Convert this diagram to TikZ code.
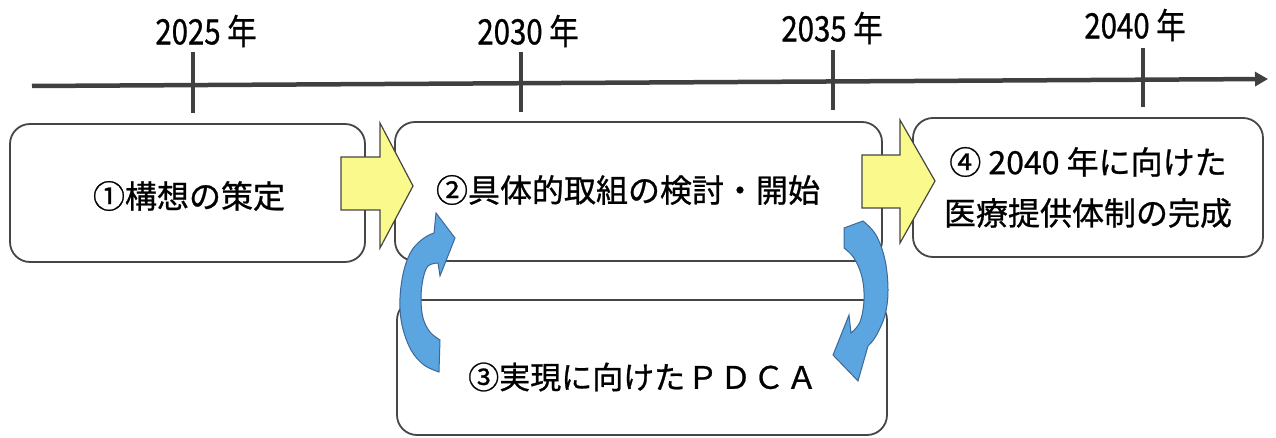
\documentclass[tikz,border=0pt]{standalone}
\usepackage{fontspec}
\setmainfont{Noto Sans CJK JP}
\newfontfamily\boxfont[FakeBold=0.8]{Noto Sans CJK JP}
\newfontfamily\yearfont[FakeStretch=0.84,FakeBold=0.8]{Noto Sans CJK JP}
\usetikzlibrary{arrows.meta}
\definecolor{boxline}{RGB}{70,70,70}
\definecolor{axisgray}{RGB}{64,64,64}
\definecolor{yfill}{RGB}{250,250,140}
\definecolor{bfill}{RGB}{91,165,225}
\definecolor{bline}{RGB}{60,105,150}
\begin{document}
\begin{tikzpicture}[x=1pt,y=-1pt,
  box/.style={draw=boxline, line width=1.8pt, rounded corners=20pt, fill=white, inner sep=0pt},
  lbl/.style={font=\boxfont\fontsize{32}{38}\selectfont, text=black, inner sep=0pt},
  lblpdca/.style={font=\boxfont\fontsize{31}{36}\selectfont, text=black, inner sep=0pt},
  yr/.style={font=\yearfont\fontsize{35}{40}\selectfont, text=black, inner sep=0pt},
  tickline/.style={draw=axisgray, line width=3.5pt},
  blockarrow/.style={fill=yfill, draw=boxline, line width=1.2pt, line join=miter},
  cyc/.style={fill=bfill, draw=bline, line width=1pt, line join=miter}
]
\useasboundingbox (0,0) rectangle (1276,438);

% timeline
\coordinate (axS) at (32,86);
\coordinate (axE) at (1268,79);
\draw[draw=axisgray, line width=4.5pt, -{Triangle[length=13pt,width=14pt]}] (axS) -- (axE);
\draw[tickline] (193,52) -- (193,113);
\draw[tickline] (521,52) -- (521,112);
\draw[tickline] (833,50) -- (833,110);
\draw[tickline] (1143,48) -- (1143,107);
\node[yr] (y2025) at (206,31) {2025 年};
\node[yr] (y2030) at (528,31) {2030 年};
\node[yr] (y2035) at (832,28) {2035 年};
\node[yr] (y2040) at (1135,25) {2040 年};

% boxes
\node[box, minimum width=490pt, minimum height=135pt] (b3) at (642,367.5) {};
\node[box, minimum width=487pt, minimum height=139pt] (b2) at (638.5,191.5) {};
\node[box, minimum width=355pt, minimum height=138pt] (b1) at (187.5,193) {};
\node[box, minimum width=350pt, minimum height=139pt] (b4) at (1088,187.5) {};

% yellow block arrows
\draw[blockarrow] (341,157) -- (380,157) -- (380,123) -- (413,186) -- (380,248) -- (380,210) -- (341,210) -- cycle;
\draw[blockarrow] (862,155) -- (900,155) -- (900,120) -- (935,181) -- (900,243) -- (900,208) -- (862,208) -- cycle;

% blue cycle arrows
\filldraw[cyc] plot[smooth, tension=0.6] coordinates {(439,372) (424,365) (411,350) (402,325) (400,298) (404,270) (412,250) (424,238) (434,233)}
  -- (436,213) -- (455,238) -- (440,276) -- (438,263)
  -- plot[smooth, tension=0.6] coordinates {(438,263) (428,266) (423,279) (421,298) (423,318) (430,332) (440,340)} -- cycle;
\filldraw[cyc] plot[smooth, tension=0.6] coordinates {(863,221) (876,235) (885,260) (888,290) (885,315) (876,336) (868,346)}
  -- (858,381) -- (833,355) -- (849,315) -- (851,333)
  -- plot[smooth, tension=0.6] coordinates {(851,333) (860,322) (864,300) (862,277) (854,258) (844,248)} -- (844,228) -- cycle;

% texts
\node[lbl] (t1) at (189,196) {①構想の策定};
\node[lbl] (t2) at (628,190) {②具体的取組の検討・開始};
\node[lbl] (t4a) at (1088,162) {④ 2040 年に向けた};
\node[lbl] (t4b) at (1088,213) {医療提供体制の完成};
\node[lblpdca, anchor=west] (t3) at (468,377) {③実現に向けた\hspace{2pt}Ｐ\hspace{2pt}Ｄ\hspace{2pt}Ｃ\hspace{2pt}Ａ};
\end{tikzpicture}
\end{document}
